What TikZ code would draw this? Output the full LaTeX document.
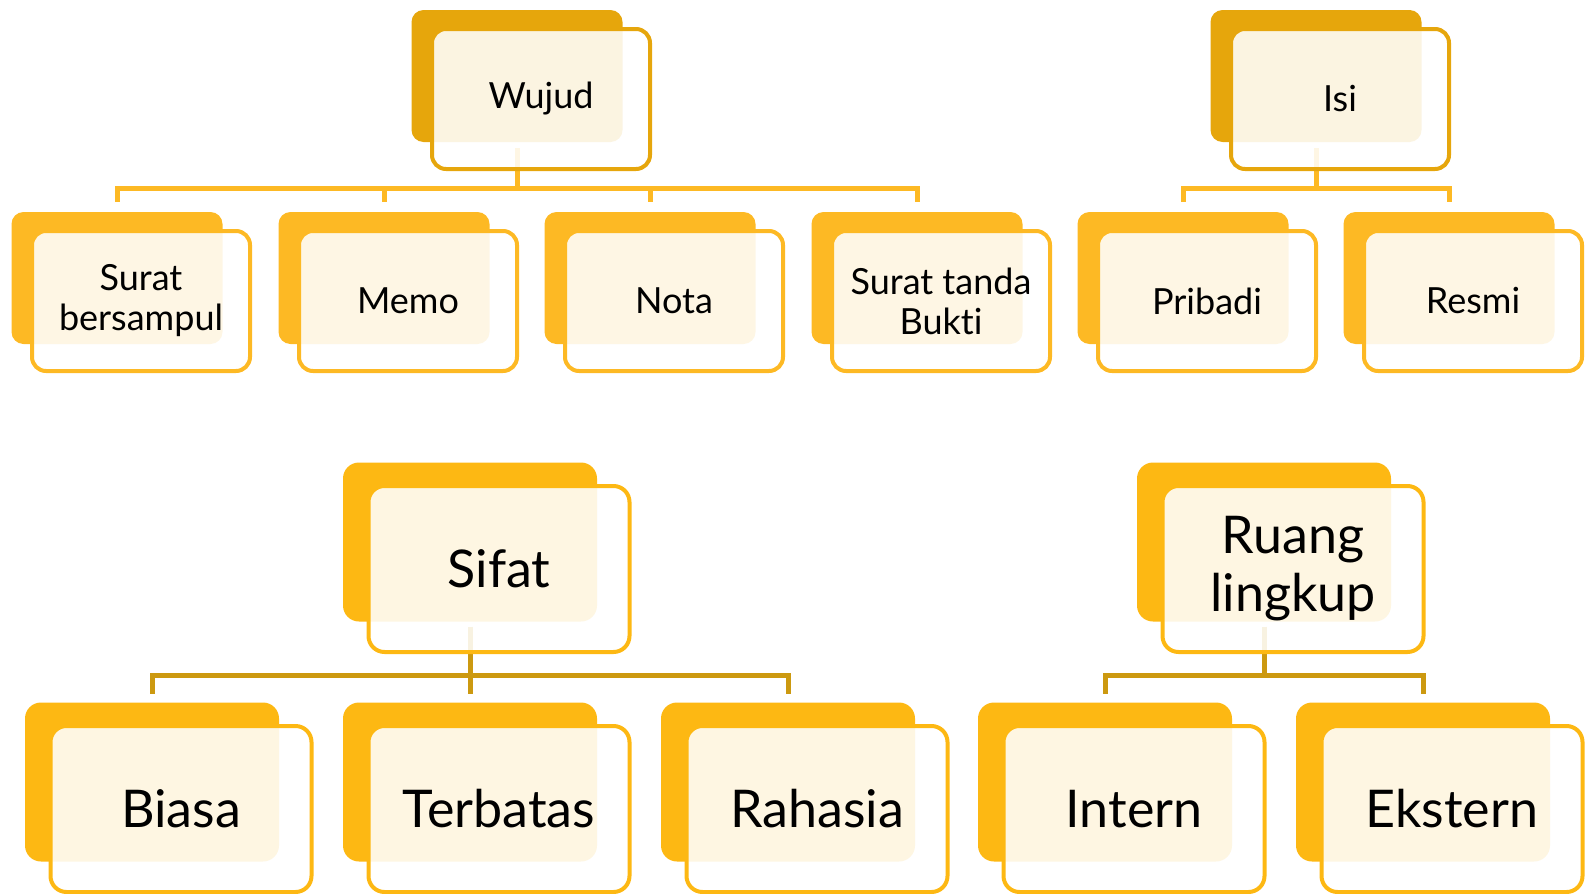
\documentclass[tikz,border=0pt]{standalone}
\usepackage{fontspec}
\setmainfont{Lato}[Ligatures=NoCommon]
\definecolor{emasTua}{RGB}{230,166,12}
\definecolor{emas}{RGB}{253,185,36}
\definecolor{kuning}{RGB}{253,184,19}
\definecolor{garisTua}{RGB}{204,153,16}

\begin{document}
\begin{tikzpicture}[x=0.5pt, y=-0.5pt,
		belakang/.style={rectangle, rounded corners=6pt, fill=#1, minimum width=105.5pt, minimum height=66pt, inner sep=0pt},
		depan/.style={rectangle, rounded corners=7pt, draw=#1, line width=2pt, fill=white, fill opacity=0.88, text opacity=1, minimum width=109pt, minimum height=70pt, inner sep=0pt, align=center, font=\fontsize{18}{20}\selectfont},
		belakangBesar/.style={belakang=#1, rounded corners=8pt, minimum width=127pt, minimum height=79.5pt},
		depanBesar/.style={depan=#1, rounded corners=8pt, minimum width=130.5pt, minimum height=83pt, font=\fontsize{26}{29}\selectfont},
		garis/.style={draw=#1, line width=2.5pt}]
				\useasboundingbox (0,0) rectangle (1585,894);
				% kotak belakang
				\node[belakang=emasTua] (wujudB) at (517, 76) {};
				\node[belakang=emasTua] (isiB) at (1316, 76) {};
				\node[belakang=emas] (suratB) at (117, 278) {};
				\node[belakang=emas] (memoB) at (384, 278) {};
				\node[belakang=emas] (notaB) at (650, 278) {};
				\node[belakang=emas] (buktiB) at (917, 278) {};
				\node[belakang=emas] (pribadiB) at (1183, 278) {};
				\node[belakang=emas] (resmiB) at (1449, 278) {};
				\node[belakangBesar=kuning] (sifatB) at (470, 542) {};
				\node[belakangBesar=kuning] (ruangB) at (1264, 542) {};
				\node[belakangBesar=kuning] (biasaB) at (152, 782) {};
				\node[belakangBesar=kuning] (terbatasB) at (470, 782) {};
				\node[belakangBesar=kuning] (rahasiaB) at (788, 782) {};
				\node[belakangBesar=kuning] (internB) at (1105, 782) {};
				\node[belakangBesar=kuning] (eksternB) at (1423, 782) {};
				% garis penghubung
				\draw[garis=emas, shorten <=3pt, shorten >=5pt] (wujudB.south) -- ++(0, 46) -| (suratB.north);
				\draw[garis=emas, shorten <=3pt, shorten >=5pt] (wujudB.south) -- ++(0, 46) -| (memoB.north);
				\draw[garis=emas, shorten <=3pt, shorten >=5pt] (wujudB.south) -- ++(0, 46) -| (notaB.north);
				\draw[garis=emas, shorten <=3pt, shorten >=5pt] (wujudB.south) -- ++(0, 46) -| (buktiB.north);
				\draw[garis=emas, shorten <=3pt, shorten >=5pt] (isiB.south) -- ++(0, 46) -| (pribadiB.north);
				\draw[garis=emas, shorten <=3pt, shorten >=5pt] (isiB.south) -- ++(0, 46) -| (resmiB.north);
				\draw[garis=garisTua, shorten <=2.5pt, shorten >=4pt] (sifatB.south) -- ++(0, 53.5) -| (biasaB.north);
				\draw[garis=garisTua, shorten <=2.5pt, shorten >=4pt] (sifatB.south) -- ++(0, 53.5) -| (terbatasB.north);
				\draw[garis=garisTua, shorten <=2.5pt, shorten >=4pt] (sifatB.south) -- ++(0, 53.5) -| (rahasiaB.north);
				\draw[garis=garisTua, shorten <=2.5pt, shorten >=4pt] (ruangB.south) -- ++(0, 53.5) -| (internB.north);
				\draw[garis=garisTua, shorten <=2.5pt, shorten >=4pt] (ruangB.south) -- ++(0, 53.5) -| (eksternB.north);
				% kotak depan
				\node[depan=emasTua] (wujud) at (541, 99) {Wujud};
				\node[depan=emasTua] (isi) at (1340, 99) {Isi};
				\node[depan=emas] (surat) at (141, 301) {Surat\\bersampul};
				\node[depan=emas] (memo) at (408, 301) {Memo};
				\node[depan=emas] (nota) at (674, 301) {Nota};
				\node[depan=emas] (bukti) at (941, 301) {Surat tanda\\Bukti};
				\node[depan=emas] (pribadi) at (1207, 301) {Pribadi};
				\node[depan=emas] (resmi) at (1473, 301) {Resmi};
				\node[depanBesar=kuning] (sifat) at (499, 569) {Sifat};
				\node[depanBesar=kuning] (ruang) at (1293, 569) {Ruang\\lingkup};
				\node[depanBesar=kuning] (biasa) at (181, 809) {Biasa};
				\node[depanBesar=kuning] (terbatas) at (499, 809) {Terbatas};
				\node[depanBesar=kuning] (rahasia) at (817, 809) {Rahasia};
				\node[depanBesar=kuning] (intern) at (1134, 809) {Intern};
				\node[depanBesar=kuning] (ekstern) at (1452, 809) {Ekstern};
			\end{tikzpicture}
\end{document}
